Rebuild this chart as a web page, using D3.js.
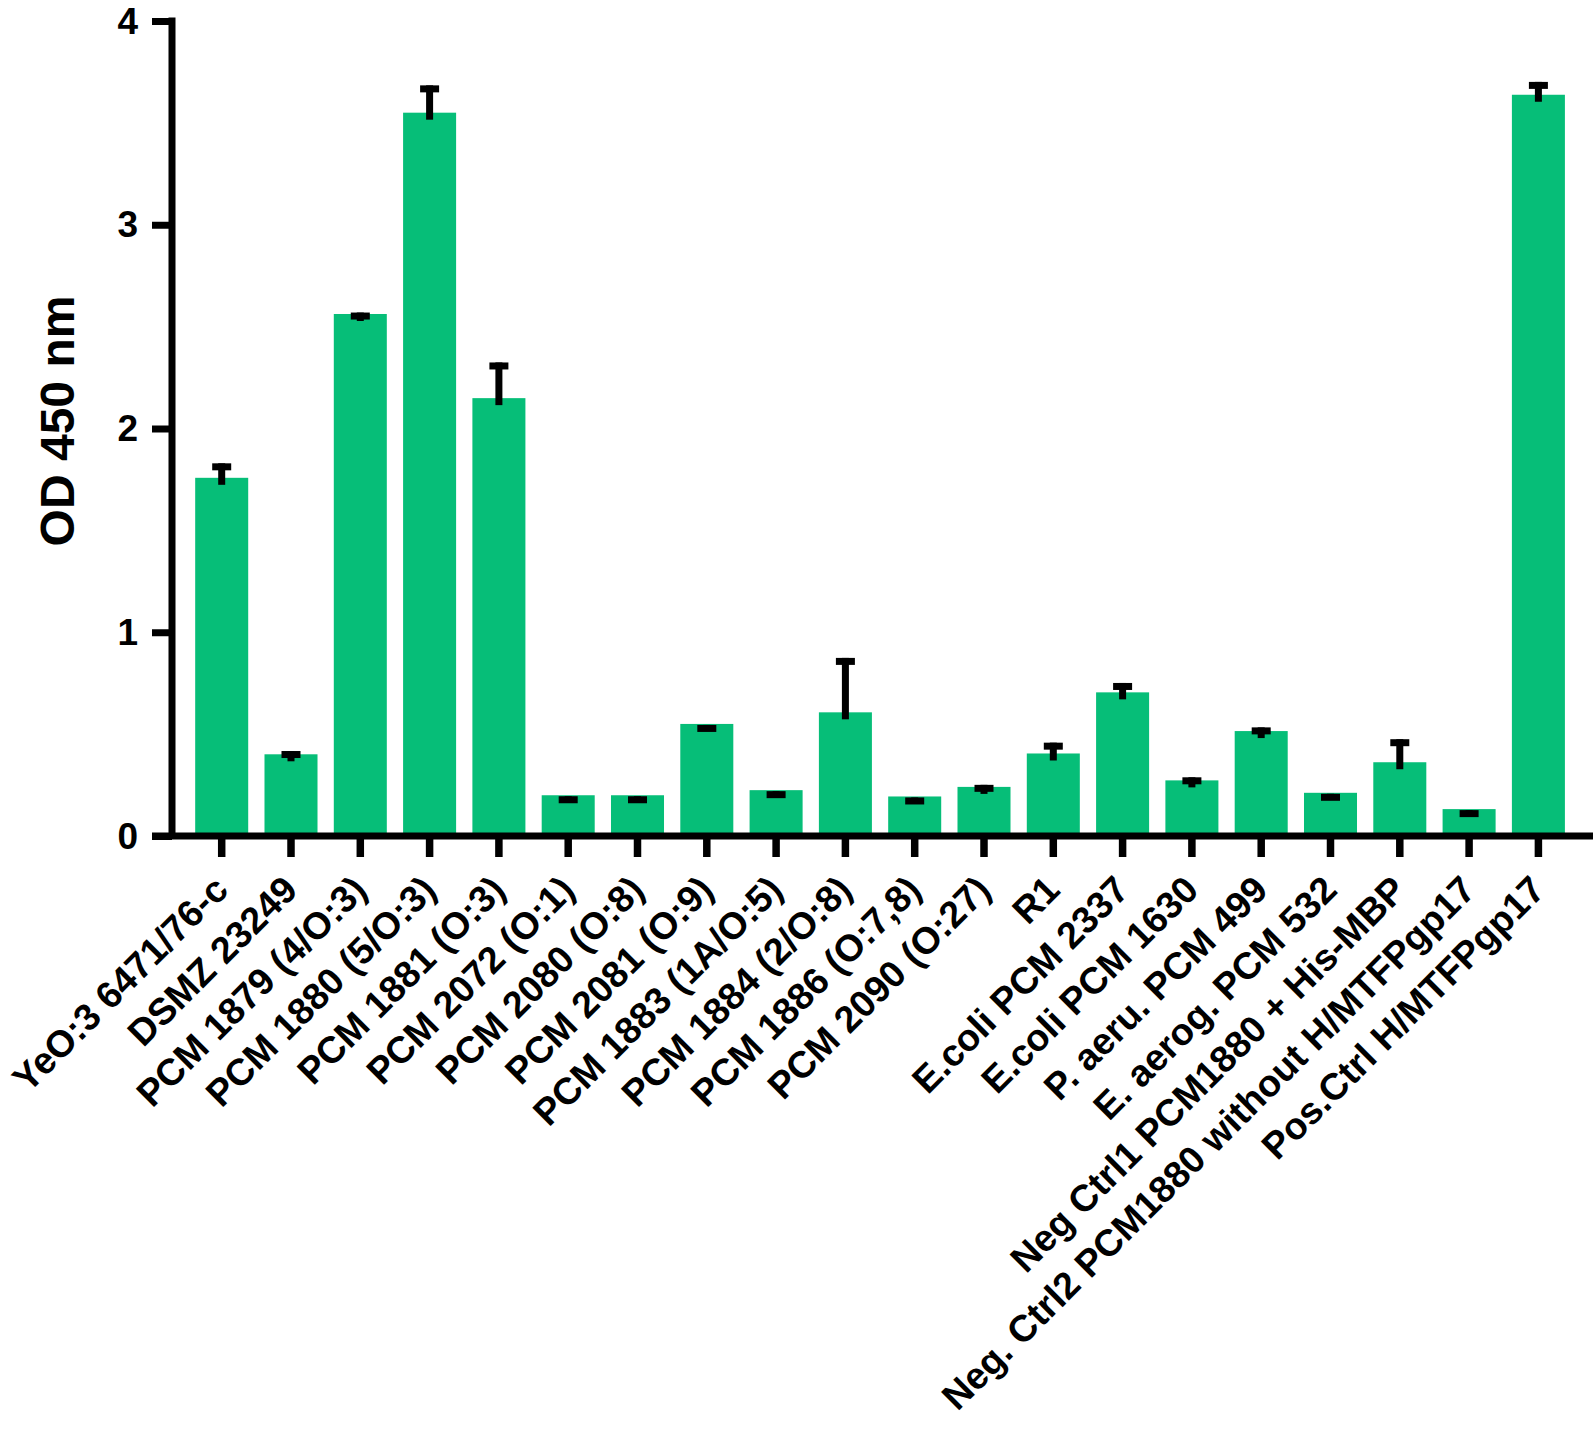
<!DOCTYPE html>
<html>
<head>
<meta charset="utf-8">
<script src="https://cdn.jsdelivr.net/npm/d3@7"></script>
<style>
  html, body { margin: 0; padding: 0; background: #fff; }
  svg { display: block; }
  text { font-family: "Liberation Sans", Arial, Helvetica, sans-serif; font-weight: bold; fill: #000; }
</style>
</head>
<body>
<svg id="chart" width="1593" height="1440"></svg>
<script>
const categories = [
  "YeO:3 6471/76-c",
  "DSMZ 23249",
  "PCM 1879 (4/O:3)",
  "PCM 1880 (5/O:3)",
  "PCM 1881 (O:3)",
  "PCM 2072 (O:1)",
  "PCM 2080 (O:8)",
  "PCM 2081 (O:9)",
  "PCM 1883 (1A/O:5)",
  "PCM 1884 (2/O:8)",
  "PCM 1886 (O:7,8)",
  "PCM 2090 (O:27)",
  "R1",
  "E.coli PCM 2337",
  "E.coli PCM 1630",
  "P. aeru. PCM 499",
  "E. aerog. PCM 532",
  "Neg Ctrl1 PCM1880 + His-MBP",
  "Neg. Ctrl2 PCM1880 without H/MTFPgp17",
  "Pos.Ctrl H/MTFPgp17"
];
const means = [1.758, 0.401, 2.562, 3.550, 2.149, 0.200, 0.200, 0.550, 0.225, 0.607,
               0.194, 0.241, 0.405, 0.705, 0.273, 0.515, 0.212, 0.362, 0.132, 3.638];
const errors = [0.076, 0.021, 0.012, 0.139, 0.180, 0.000, 0.000, 0.000, 0.000, 0.272,
                0.000, 0.015, 0.058, 0.051, 0.020, 0.023, 0.000, 0.118, 0.000, 0.068];
const yTicks = [0, 1, 2, 3, 4];
const yTitle = "OD 450 nm";

const svg = d3.select("#chart");
const green = "#06BE78";

const y = d3.scaleLinear().domain([0, 4]).range([836, 21]);
const x = d3.scaleBand().domain(categories).range([187.05, 1573.05])
  .paddingInner(0.235).paddingOuter(0.1175);

const data = categories.map((c, i) => ({ c, v: means[i], e: errors[i] }));

// bars
svg.append("g").selectAll("rect").data(data).join("rect")
  .attr("x", d => x(d.c))
  .attr("width", x.bandwidth())
  .attr("y", d => y(d.v))
  .attr("height", d => y(0) - y(d.v))
  .attr("fill", green);

// error bars
const eb = svg.append("g").selectAll("g").data(data).join("g");
eb.append("rect")
  .attr("x", d => x(d.c) + x.bandwidth() / 2 - 3.5)
  .attr("width", 7)
  .attr("y", d => y(d.v + d.e) + 1)
  .attr("height", d => Math.max(0, (y(d.v) + 7) - (y(d.v + d.e) + 1)))
  .attr("fill", "#000");
eb.append("rect")
  .attr("x", d => x(d.c) + x.bandwidth() / 2 - 9.5)
  .attr("width", 19)
  .attr("y", d => y(d.v + d.e) + 1)
  .attr("height", 7)
  .attr("fill", "#000");

// y axis
const yAxis = d3.axisLeft(y).tickValues(yTicks).tickFormat(d3.format("d"))
  .tickSize(20).tickSizeOuter(0).tickPadding(14);
const gy = svg.append("g").attr("transform", "translate(172,0)").call(yAxis);
gy.select(".domain").remove();
gy.selectAll(".tick line").attr("stroke", "#000").attr("stroke-width", 7);
gy.selectAll(".tick text").attr("font-size", 37).attr("dy", "0.33em");
svg.append("line").attr("x1", 172).attr("x2", 172)
  .attr("y1", y(4) - 3.5).attr("y2", y(0))
  .attr("stroke", "#000").attr("stroke-width", 7);

// x axis
const xAxis = d3.axisBottom(x).tickSize(21).tickSizeOuter(0).tickFormat("");
const gx = svg.append("g").attr("transform", `translate(0,${y(0)})`).call(xAxis);
gx.select(".domain").remove();
gx.selectAll(".tick line").attr("stroke", "#000").attr("stroke-width", 7.5);
svg.append("line").attr("x1", 152).attr("x2", 1593)
  .attr("y1", y(0)).attr("y2", y(0))
  .attr("stroke", "#000").attr("stroke-width", 7);

// x labels
svg.append("g").selectAll("text").data(categories).join("text")
  .attr("transform", d => `translate(${x(d) + x.bandwidth() / 2 + 8.5},892) rotate(-45)`)
  .attr("text-anchor", "end")
  .attr("font-size", 37.5)
  .text(d => d);

// y title
svg.append("text")
  .attr("transform", "translate(74,421) rotate(-90)")
  .attr("text-anchor", "middle")
  .attr("font-size", 48)
  .text(yTitle);
</script>
</body>
</html>
